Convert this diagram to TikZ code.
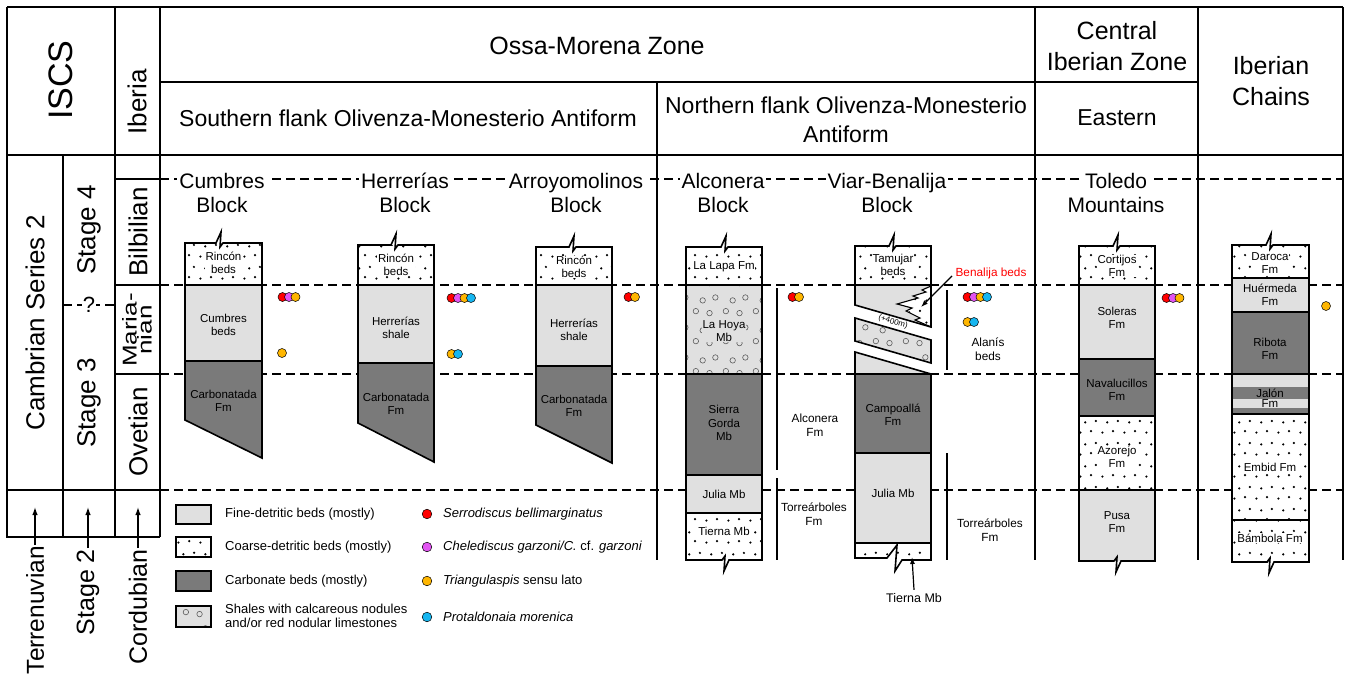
\documentclass[tikz,border=0pt]{standalone}
\usepackage{fontspec}
\setmainfont{Liberation Sans}
\usepackage{graphicx}
\usetikzlibrary{arrows.meta,patterns}
\definecolor{lightg}{RGB}{224,224,224}
\definecolor{darkg}{RGB}{122,122,122}
\definecolor{fred}{RGB}{255,0,0}
\definecolor{fmag}{RGB}{226,84,242}
\definecolor{forg}{RGB}{255,182,0}
\definecolor{fcya}{RGB}{22,182,240}
\pgfdeclarepatternformonly{sanddots}{\pgfqpoint{0pt}{0pt}}{\pgfqpoint{22pt}{22pt}}{\pgfqpoint{22pt}{22pt}}{%
 \pgfpathcircle{\pgfqpoint{2.5pt}{2.5pt}}{1.25pt}%
 \pgfpathcircle{\pgfqpoint{13.5pt}{4pt}}{1.25pt}%
 \pgfpathcircle{\pgfqpoint{7.5pt}{13pt}}{1.25pt}%
 \pgfpathcircle{\pgfqpoint{18.5pt}{14.5pt}}{1.25pt}%
 \pgfusepath{fill}}
\pgfdeclarepatternformonly{nodules}{\pgfqpoint{0pt}{0pt}}{\pgfqpoint{30pt}{30pt}}{\pgfqpoint{30pt}{30pt}}{%
 \pgfsetlinewidth{0.6pt}%
 \pgfpathcircle{\pgfqpoint{6pt}{6pt}}{2.8pt}%
 \pgfpathcircle{\pgfqpoint{20pt}{4pt}}{2.8pt}%
 \pgfpathcircle{\pgfqpoint{13pt}{17pt}}{2.8pt}%
 \pgfpathcircle{\pgfqpoint{26pt}{20pt}}{2.8pt}%
 \pgfusepath{stroke}}
\newcommand\brkT[2]{-- ({#1-4},#2) -- ({#1+1},{#2-11}) -- (#1,{#2+4}) -- ({#1+3},#2)}
\newcommand\brkB[2]{-- ({#1+4},#2) -- ({#1-1},{#2+11}) -- (#1,{#2-4}) -- ({#1-3},#2)}
\tikzset{
  frame/.style={line width=1.4pt},
  dashln/.style={line width=1.4pt, dash pattern=on 9pt off 5pt},
  colline/.style={line width=1.6pt, line join=miter},
  finefill/.style={fill=lightg},
  carbfill/.style={fill=darkg},
  coarsefill/.style={preaction={fill=white}, pattern=sanddots, pattern color=black},
  nodfill/.style={preaction={fill=lightg}, pattern=nodules, pattern color=black!65},
  hdr/.style={font=\fontsize{25}{31}\selectfont, align=center},
  sub/.style={font=\fontsize{23}{29}\selectfont, align=center},
  lft/.style={font=\fontsize{26}{30}\selectfont, rotate=90, inner sep=1pt},
  blk/.style={font=\fontsize{21}{24}\selectfont, anchor=base, inner sep=2pt},
  blkw/.style={blk, fill=white},
  lay/.style={font=\fontsize{11.5}{12.5}\selectfont, align=center, inner sep=0pt},
  wbg/.style={fill=white, inner sep=0.8pt},
  side/.style={font=\fontsize{11.8}{14}\selectfont, align=center},
  leg/.style={font=\fontsize{13}{13.5}\selectfont, anchor=west, align=left, inner sep=0pt},
  legbox/.style={line width=1.4pt},
  fos/.style={draw=black, line width=0.5pt},
  arr/.style={line width=1.3pt, -{Latex[length=8pt,width=5.5pt]}},
}
\begin{document}
\begin{tikzpicture}[x=1pt,y=-1pt]
\useasboundingbox (0,0) rectangle (1348,677);
% dashed time lines
\draw[dashln] (160,179) -- (1343,179);
\draw[dashln] (160,285) -- (1343,285);
\draw[dashln] (160,374) -- (1343,374);
\draw[dashln] (160,490) -- (1343,490);
\draw[dashln] (63,305) -- (115,305);
% frame
\draw[frame] (7,7) -- (1343,7);
\draw[frame] (7,155) -- (1343,155);
\draw[frame] (160,82) -- (1198,82);
\draw[frame] (7,7) -- (7,537) -- (160,537);
\draw[frame] (7,490) -- (160,490);
\draw[frame] (63,155) -- (63,537);
\draw[frame] (115,7) -- (115,537);
\draw[frame] (160,7) -- (160,537);
\draw[frame] (115,179) -- (160,179) (115,285) -- (160,285) (115,374) -- (160,374);
\draw[frame] (657,82) -- (657,560);
\draw[frame] (1035,7) -- (1035,560);
\draw[frame] (1198,7) -- (1198,560);
\draw[frame] (1343,7) -- (1343,560);
% header
\node[lft, font=\fontsize{34}{38}\selectfont] (iscs) at (61,80) {ISCS};
\node[lft] (iberia) at (137,102) {Iberia};
\node[hdr] (omz) at (597,46) {Ossa-Morena Zone};
\node[sub] (sfl) at (408,118) {Southern flank Olivenza-Monesterio Antiform};
\node[sub] (nfl) at (846,120) {Northern flank Olivenza-Monesterio\\Antiform};
\node[hdr] (ciz) at (1117,46) {Central\\Iberian Zone};
\node[sub] (east) at (1117,118) {Eastern};
\node[hdr] (ich) at (1271,81) {Iberian\\Chains};
% left scale
\node[lft] (cs2) at (35,323) {Cambrian Series 2};
\node[lft] (st4) at (89,230) {Stage 4};
\node[lft] (st3) at (89,403) {Stage 3};
\node[lft] (bil) at (138,232) {Bilbilian};
\node[lft, align=center, font=\fontsize{20}{15}\selectfont] (mar) at (137,330) {\scalebox{1.3}[1]{Maria-}\\\scalebox{1.3}[1]{nian}};
\node[lft] (ove) at (138,432) {Ovetian};
\node[fill=white, font=\fontsize{22}{24}\selectfont, inner sep=1pt] (qm) at (89,305) {?};
\node[lft, anchor=east, font=\fontsize{24.5}{28}\selectfont] (terr) at (35,545) {Terrenuvian};
\node[lft, anchor=east, font=\fontsize{25}{28}\selectfont] (st2) at (88,548) {Stage 2};
\node[lft, anchor=east, font=\fontsize{25}{28}\selectfont] (cord) at (138,548) {Cordubian};
\coordinate (terrtip) at (35,507);
\coordinate (st2tip) at (88,507);
\coordinate (cordtip) at (138,507);
\draw[arr] (terr.east) -- (terrtip);
\draw[arr] (st2.east) -- (st2tip);
\draw[arr] (cord.east) -- (cordtip);
% block names
\node[blkw] (cumb) at (222,188) {Cumbres};
\node[blk] (cumbB) at (222,212) {Block};
\node[blkw] (herr) at (405,188) {Herrerías};
\node[blk] (herrB) at (405,212) {Block};
\node[blkw] (arro) at (576,188) {Arroyomolinos};
\node[blk] (arroB) at (576,212) {Block};
\node[blkw] (alco) at (723,188) {Alconera};
\node[blk] (alcoB) at (723,212) {Block};
\node[blkw] (viar) at (887,188) {Viar-Benalija};
\node[blk] (viarB) at (887,212) {Block};
\node[blkw] (tole) at (1116,188) {Toledo};
\node[blk] (toleB) at (1116,212) {Mountains};
% ---- Cumbres column
\fill[coarsefill] (185,243) rectangle (262,285);
\fill[finefill] (185,285) rectangle (262,361);
\fill[carbfill] (185,361) -- (262,361) -- (262,458) -- (185,420) -- cycle;
\draw[colline] (185,285) -- (262,285) (185,361) -- (262,361);
\draw[colline] (185,420) -- (185,243) \brkT{220}{243} -- (262,243) -- (262,458) -- cycle;
\node[lay, wbg] (c1) at (223.5,263) {Rincón\\beds};
\node[lay] (c2) at (223.5,325) {Cumbres\\beds};
\node[lay] (c3) at (223.5,401) {Carbonatada\\Fm};
% ---- Herrerias column
\fill[coarsefill] (358,245) rectangle (434,285);
\fill[finefill] (358,285) rectangle (434,363);
\fill[carbfill] (358,363) -- (434,363) -- (434,462) -- (358,423) -- cycle;
\draw[colline] (358,285) -- (434,285) (358,363) -- (434,363);
\draw[colline] (358,423) -- (358,245) \brkT{395}{245} -- (434,245) -- (434,462) -- cycle;
\node[lay, wbg] (h1) at (396,265) {Rincón\\beds};
\node[lay] (h2) at (396,328) {Herrerías\\shale};
\node[lay] (h3) at (396,404) {Carbonatada\\Fm};
% ---- Arroyomolinos column
\fill[coarsefill] (536,247) rectangle (612,285);
\fill[finefill] (536,285) rectangle (612,366);
\fill[carbfill] (536,366) -- (612,366) -- (612,463) -- (536,425) -- cycle;
\draw[colline] (536,285) -- (612,285) (536,366) -- (612,366);
\draw[colline] (536,425) -- (536,247) \brkT{573}{247} -- (612,247) -- (612,463) -- cycle;
\node[lay, wbg] (a1) at (574,267) {Rincón\\beds};
\node[lay] (a2) at (574,330) {Herrerías\\shale};
\node[lay] (a3) at (574,406) {Carbonatada\\Fm};
% ---- Alconera column
\fill[coarsefill] (686,247) rectangle (762,285);
\fill[nodfill] (686,285) rectangle (762,374);
\fill[carbfill] (686,374) rectangle (762,475);
\fill[finefill] (686,475) rectangle (762,513);
\fill[coarsefill] (686,513) rectangle (762,560);
\draw[colline] (686,285) -- (762,285) (686,374) -- (762,374) (686,475) -- (762,475) (686,513) -- (762,513);
\draw[colline] (686,560) -- (686,247) \brkT{725}{247} -- (762,247) -- (762,560) \brkB{725}{560} -- cycle;
\node[lay, wbg] (al1) at (724,267) {La Lapa Fm};
\node[lay, fill=lightg, inner sep=0.8pt] (al2) at (724,331) {La Hoya\\Mb};
\node[lay, font=\fontsize{11.5}{13.5}\selectfont] (al3) at (724,423) {Sierra\\Gorda\\Mb};
\node[lay] (al4) at (724,494) {Julia Mb};
\node[lay, wbg] (al5) at (724,531) {Tierna Mb};
\draw[frame] (777,288) -- (777,470);
\draw[frame] (777,478) -- (777,560);
\node[side] (alfm) at (815,425) {Alconera\\Fm};
\node[side] (tor1) at (814,514) {Torreárboles\\Fm};
% ---- Viar-Benalija column
\fill[coarsefill] (855,246) rectangle (931,285);
\fill[finefill] (855,285) -- (931,285) -- (931,327) -- (855,305) -- cycle;
\fill[coarsefill] (931,286) -- (922,290) -- (926,292) -- (913,296) -- (918,298) -- (897,304) -- (912,308) -- (906,311) -- (920,318) -- (915,320) -- (931,327) -- cycle;
\draw[line width=1.1pt, line join=miter] (931,286) -- (922,290) -- (926,292) -- (913,296) -- (918,298) -- (897,304) -- (912,308) -- (906,311) -- (920,318) -- (915,320) -- (931,327);
\fill[nodfill] (855,318) -- (931,340) -- (931,363) -- (855,341) -- cycle;
\fill[finefill] (855,352) -- (931,374) -- (855,374) -- cycle;
\fill[carbfill] (855,374) rectangle (931,453);
\fill[finefill] (855,453) rectangle (931,543);
\fill[coarsefill] (855,543) rectangle (931,559);
\draw[colline] (855,285) -- (931,285) (855,374) -- (931,374) (855,453) -- (931,453) (855,543) -- (931,543);
\draw[colline] (855,305) -- (855,246) \brkT{893}{246} -- (931,246) -- (931,327) -- cycle;
\draw[colline] (855,318) -- (931,340) -- (931,363) -- (855,341) -- cycle;
\draw[colline] (855,352) -- (931,374) -- (931,560) -- (902,560) -- (895,571) -- (897,545) -- (887,558) -- (855,558) -- cycle;
\node[lay, font=\fontsize{8}{9}\selectfont, rotate=-16] (p400) at (893,322) {(+400m)};
\node[lay, wbg] (v1) at (893,265) {Tamujar\\beds};
\node[lay] (v2) at (893,415) {Campoallá\\Fm};
\node[lay] (v3) at (893,493) {Julia Mb};
\node[side, text=fred] (benal) at (991,273) {Benalija beds};
\coordinate (benaltip) at (921,307);
\draw[line width=1.2pt, -{Latex[length=7pt,width=5pt]}] ([yshift=-3pt]benal.west) -- (benaltip);
\node[font=\fontsize{12.5}{14}\selectfont] (tiern) at (914,598) {Tierna Mb};
\coordinate (tierntip) at (912,557);
\draw[line width=1.2pt, -{Latex[length=7pt,width=5pt]}] (tiern.north) -- (tierntip);
\draw[frame] (947,290) -- (947,370);
\draw[frame] (947,453) -- (947,560);
\node[side] (alan) at (988,349) {Alanís\\beds};
\node[side] (tor2) at (990,530) {Torreárboles\\Fm};
% ---- Toledo column
\fill[coarsefill] (1079,246) rectangle (1155,285);
\fill[finefill] (1079,285) rectangle (1155,359);
\fill[carbfill] (1079,359) rectangle (1155,416);
\fill[coarsefill] (1079,416) rectangle (1155,490);
\fill[finefill] (1079,490) rectangle (1155,561);
\draw[colline] (1079,285) -- (1155,285) (1079,359) -- (1155,359) (1079,416) -- (1155,416) (1079,490) -- (1155,490);
\draw[colline] (1079,561) -- (1079,246) \brkT{1117}{246} -- (1155,246) -- (1155,561) \brkB{1117}{561} -- cycle;
\node[lay, wbg] (t1) at (1117,266) {Cortijos\\Fm};
\node[lay] (t2) at (1117,318) {Soleras\\Fm};
\node[lay] (t3) at (1117,390) {Navalucillos\\Fm};
\node[lay, wbg] (t4) at (1117,457) {Azorejo\\Fm};
\node[lay] (t5) at (1117,522) {Pusa\\Fm};
% ---- Iberian Chains column
\fill[coarsefill] (1232,245) rectangle (1309,278);
\fill[finefill] (1232,278) rectangle (1309,312);
\fill[carbfill] (1232,312) rectangle (1309,374);
\fill[finefill] (1232,374) rectangle (1309,387);
\fill[carbfill] (1232,387) rectangle (1309,399);
\fill[finefill] (1232,399) rectangle (1309,408);
\fill[carbfill] (1232,408) rectangle (1309,414);
\fill[coarsefill] (1232,414) rectangle (1309,520);
\fill[coarsefill] (1232,520) rectangle (1309,562);
\draw[colline] (1232,278) -- (1309,278) (1232,312) -- (1309,312) (1232,374) -- (1309,374) (1232,414) -- (1309,414) (1232,520) -- (1309,520);
\draw[colline] (1232,562) -- (1232,245) \brkT{1270}{245} -- (1309,245) -- (1309,562) \brkB{1270}{562} -- cycle;
\node[lay, wbg] (i1) at (1270,263) {Daroca\\Fm};
\node[lay] (i2) at (1270,295) {Huérmeda\\Fm};
\node[lay] (i3) at (1270,349) {Ribota\\Fm};
\node[lay, font=\fontsize{11.5}{10}\selectfont] (i4) at (1270,398) {Jalón\\Fm};
\node[lay, wbg] (i5) at (1270,467) {Embid Fm};
\node[lay, wbg] (i6) at (1270,538) {Bámbola Fm};
% ---- fossil dots
\foreach \c [count=\i from 0] in {fred,fmag,forg} \filldraw[fos, fill=\c] (282.5+6.5*\i,297) circle (4.5);
\filldraw[fos, fill=forg] (282,353) circle (4.5);
\foreach \c [count=\i from 0] in {fred,fmag,forg,fcya} \filldraw[fos, fill=\c] (451.5+6.5*\i,298) circle (4.5);
\foreach \c [count=\i from 0] in {forg,fcya} \filldraw[fos, fill=\c] (451.5+6.5*\i,354) circle (4.5);
\foreach \c [count=\i from 0] in {fred,forg} \filldraw[fos, fill=\c] (628.5+6.5*\i,297) circle (4.5);
\foreach \c [count=\i from 0] in {fred,forg} \filldraw[fos, fill=\c] (792.5+6.5*\i,297) circle (4.5);
\foreach \c [count=\i from 0] in {fred,fmag,forg,fcya} \filldraw[fos, fill=\c] (967.5+6.5*\i,297) circle (4.5);
\foreach \c [count=\i from 0] in {forg,fcya} \filldraw[fos, fill=\c] (967.5+6.5*\i,322) circle (4.5);
\foreach \c [count=\i from 0] in {fred,fmag,forg} \filldraw[fos, fill=\c] (1166.5+6.5*\i,298) circle (4.5);
\filldraw[fos, fill=forg] (1326,306) circle (4.5);
% ---- legend
\draw[legbox, finefill] (176,505) rectangle (211,524);
\draw[legbox, coarsefill] (176,537) rectangle (211,557);
\draw[legbox, carbfill] (176,571) rectangle (211,591);
\draw[legbox, nodfill] (176,606) rectangle (211,627);
\node[leg] (l1) at (225,514) {Fine-detritic beds (mostly)};
\node[leg] (l2) at (225,547) {Coarse-detritic beds (mostly)};
\node[leg] (l3) at (225,581) {Carbonate beds (mostly)};
\node[leg] (l4) at (225,616) {Shales with calcareous nodules\\and/or red nodular limestones};
\filldraw[fos, fill=fred] (427,514) circle (4.8);
\filldraw[fos, fill=fmag] (427,547) circle (4.8);
\filldraw[fos, fill=forg] (427,581) circle (4.8);
\filldraw[fos, fill=fcya] (427,617) circle (4.8);
\node[leg] (s1) at (443,514) {\itshape Serrodiscus bellimarginatus};
\node[leg] (s2) at (443,547) {\itshape Chelediscus garzoni/C. \upshape cf. \itshape garzoni};
\node[leg] (s3) at (443,581) {\textit{Triangulaspis} sensu lato};
\node[leg] (s4) at (443,617) {\itshape Protaldonaia morenica};
\end{tikzpicture}
\end{document}
